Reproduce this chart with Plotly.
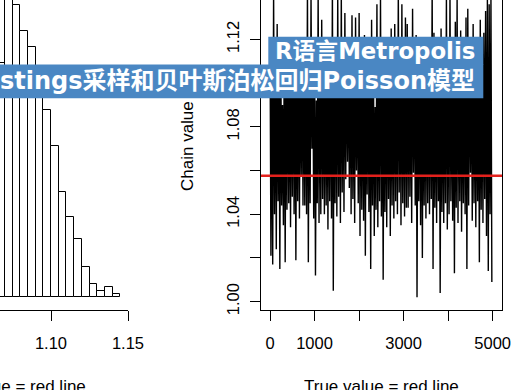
import plotly.graph_objects as go

# ---------------- data ----------------
# Left panel: histogram of the chain (only the visible right part of it)
hist_bin_starts = [1.065, 1.070, 1.075, 1.080, 1.085, 1.090, 1.095, 1.100,
                   1.105, 1.110, 1.115, 1.120, 1.125, 1.130, 1.135, 1.140]
hist_counts = [352, 466, 438, 400, 376, 318, 281, 227,
               158, 120, 87, 45, 20, 9, 16, 5]
hist_bin_width = 0.005
hist_tick_vals = [1.10, 1.15]
hist_tick_text = ["1.10", "1.15"]

# Right panel: trace plot, upper and lower excursions of the chain (every 40 iterations)
chain_high = [
    1.119, 1.117, 1.142, 1.118, 1.127, 1.116, 1.120, 1.090, 1.119, 1.117,
    1.121, 1.115, 1.119, 1.118, 1.116, 1.120, 1.117, 1.119, 1.115, 1.118,
    1.120, 1.143, 1.117, 1.140, 1.118, 1.116, 1.092, 1.141, 1.119, 1.129,
    1.117, 1.120, 1.116, 1.118, 1.119, 1.144, 1.117, 1.119, 1.140, 1.118,
    1.141, 1.116, 1.132, 1.119, 1.117, 1.120, 1.131, 1.118, 1.130, 1.116,
    1.132, 1.119, 1.117, 1.122, 1.118, 1.116, 1.119, 1.129, 1.118, 1.089,
    1.136, 1.117, 1.139, 1.119, 1.116, 1.120, 1.118, 1.117, 1.125, 1.119,
    1.127, 1.116, 1.142, 1.118, 1.136, 1.120, 1.130, 1.127, 1.117, 1.119,
    1.134, 1.116, 1.122, 1.118, 1.117, 1.119, 1.116, 1.120, 1.118, 1.117,
    1.119, 1.1445, 1.123, 1.116, 1.119, 1.118, 1.125, 1.117, 1.119, 1.140,
    1.118, 1.141, 1.116, 1.120, 1.128, 1.139, 1.118, 1.124, 1.117, 1.119,
    1.130, 1.134, 1.118, 1.116, 1.127, 1.119, 1.117, 1.120, 1.129, 1.118,
    1.123, 1.133, 1.138, 1.136, 1.140,
]
chain_low = [
    1.021, 1.017, 1.040, 1.024, 1.046, 1.015, 1.044, 1.035, 1.018, 1.042,
    1.045, 1.034, 1.048, 1.040, 1.019, 1.046, 1.038, 1.058, 1.044, 1.044,
    1.040, 1.018, 1.045, 1.070, 1.038, 1.012, 1.045, 1.036, 1.040, 1.047,
    1.040, 1.044, 1.033, 1.046, 1.038, 1.005, 1.045, 1.039, 1.048, 1.036,
    1.050, 1.041, 1.056, 1.064, 1.052, 1.040, 1.047, 1.036, 1.060, 1.045,
    1.030, 1.042, 1.037, 1.021, 1.049, 1.041, 1.015, 1.044, 1.030, 1.042,
    1.034, 1.046, 1.039, 1.010, 1.041, 1.034, 1.047, 1.030, 1.044, 1.038,
    1.046, 1.040, 1.050, 1.035, 1.045, 1.039, 1.043, 1.043, 1.048, 1.036,
    1.059, 1.044, 1.002, 1.046, 1.035, 1.020, 1.044, 1.038, 1.045, 1.040,
    1.047, 1.015, 1.043, 1.036, 1.046, 1.004, 1.041, 1.036, 1.045, 1.033,
    1.040, 1.046, 1.037, 1.013, 1.043, 1.036, 1.046, 1.032, 1.045, 1.040,
    1.015, 1.044, 1.059, 1.037, 1.045, 1.034, 1.046, 1.018, 1.042, 1.036,
    1.047, 1.030, 1.014, 1.040, 1.009,
]
chain_start_iter = 1
chain_step = 20
true_value = 1.0576

trace_tick_vals = [0, 1000, 2000, 3000, 4000, 5000]
trace_tick_text = ["0", "1000", "", "3000", "", "5000"]
value_tick_vals = [1.00, 1.02, 1.04, 1.06, 1.08, 1.10, 1.12]
value_tick_text = ["1.00", "", "1.04", "", "1.08", "", "1.12"]

title_line1 = "R语言Metropolis"
title_line2 = "stings采样和贝叶斯泊松回归Poisson模型"
x_title = "True value = red line"
y_title = "Chain value"

# chain as a single series: high, low, high, low ...
chain_values = []
for hi, lo in zip(chain_high, chain_low):
    chain_values.extend([hi, lo])

# ---------------- figure ----------------
W, H = 520, 390
R_FONT = "Liberation Sans, Arial, sans-serif"
BANNER_FONT = "DejaVu Sans, Noto Sans CJK SC, sans-serif"
BANNER_BLUE = "#4a87c3"


def px_x(x):
    return x / W


def px_y(y):
    return 1 - y / H


fig = go.Figure()
fig.add_trace(go.Bar(
    x=hist_bin_starts, y=hist_counts, width=hist_bin_width, offset=0,
    marker=dict(color="white", line=dict(color="black", width=1)),
    xaxis="x", yaxis="y", hoverinfo="skip",
))
fig.add_trace(go.Scatter(
    x0=chain_start_iter, dx=chain_step, y=chain_values, mode="lines",
    line=dict(color="black", width=1.4, simplify=False),
    xaxis="x2", yaxis="y2", hoverinfo="skip",
))

axis_common = dict(
    ticks="outside", ticklen=10, tickwidth=1, tickcolor="black",
    showline=True, linecolor="black", linewidth=1,
    showgrid=False, zeroline=False, automargin=False,
    tickfont=dict(family=R_FONT, size=16.5, color="black"),
    fixedrange=True,
)

plot_domain_y = [80 / H, 1]

fig.update_layout(
    width=W, height=H,
    margin=dict(l=0, r=0, t=0, b=0, pad=0),
    paper_bgcolor="white", plot_bgcolor="white",
    showlegend=False,
    bargap=0,
    xaxis=dict(domain=[0, px_x(128)], range=[1.06688, 1.15], anchor="y",
               tickmode="array", tickvals=hist_tick_vals, ticktext=hist_tick_text,
               ticklabelstandoff=8, **axis_common),
    yaxis=dict(domain=plot_domain_y, range=[-19, 446], anchor="x", visible=False,
               fixedrange=True),
    xaxis2=dict(domain=[px_x(261), px_x(502)], range=[-202, 5209], anchor="y2",
                tickmode="array", tickvals=trace_tick_vals, ticktext=trace_tick_text,
                ticklabelstandoff=8, **axis_common),
    yaxis2=dict(domain=plot_domain_y, range=[0.9962, 1.1380], anchor="x2",
                tickmode="array", tickvals=value_tick_vals, ticktext=value_tick_text,
                tickangle=-90, mirror=True, ticklabelstandoff=4, **axis_common),
)

# true value line
fig.add_shape(type="line", xref="x2 domain", x0=0, x1=1, yref="y2",
              y0=true_value, y1=true_value, line=dict(color="#e3211c", width=2.5))

# banner rectangles
fig.add_shape(type="rect", xref="paper", yref="paper",
              x0=px_x(268.3), x1=px_x(483.3), y0=px_y(65), y1=px_y(36.7),
              fillcolor=BANNER_BLUE, line=dict(width=0), layer="above")
fig.add_shape(type="rect", xref="paper", yref="paper",
              x0=px_x(-2), x1=px_x(483.3), y0=px_y(98.3), y1=px_y(64.5),
              fillcolor=BANNER_BLUE, line=dict(width=0), layer="above")

annotations = [
    dict(text=title_line1, x=px_x(476.5), y=px_y(51.5), xanchor="right", yanchor="middle",
         font=dict(family=BANNER_FONT, size=22.8, color="white", weight="bold")),
    dict(text=title_line2, x=px_x(476.5), y=px_y(81), xanchor="right", yanchor="middle",
         font=dict(family=BANNER_FONT, size=24, color="white", weight="bold")),
    dict(text=y_title, x=px_x(187.5), y=px_y(146.5), xanchor="center", yanchor="middle",
         textangle=-90, font=dict(family=R_FONT, size=17, color="black")),
    dict(text=x_title, x=px_x(381), y=px_y(375), xanchor="center", yanchor="top",
         font=dict(family=R_FONT, size=17, color="black")),
    dict(text=x_title, x=px_x(8), y=px_y(375), xanchor="center", yanchor="top",
         font=dict(family=R_FONT, size=17, color="black")),
]
for a in annotations:
    a.update(xref="paper", yref="paper", showarrow=False)
fig.update_layout(annotations=annotations)

fig.write_html("out.html", config={"displayModeBar": False},
               post_script="document.body.style.margin='0px';")
